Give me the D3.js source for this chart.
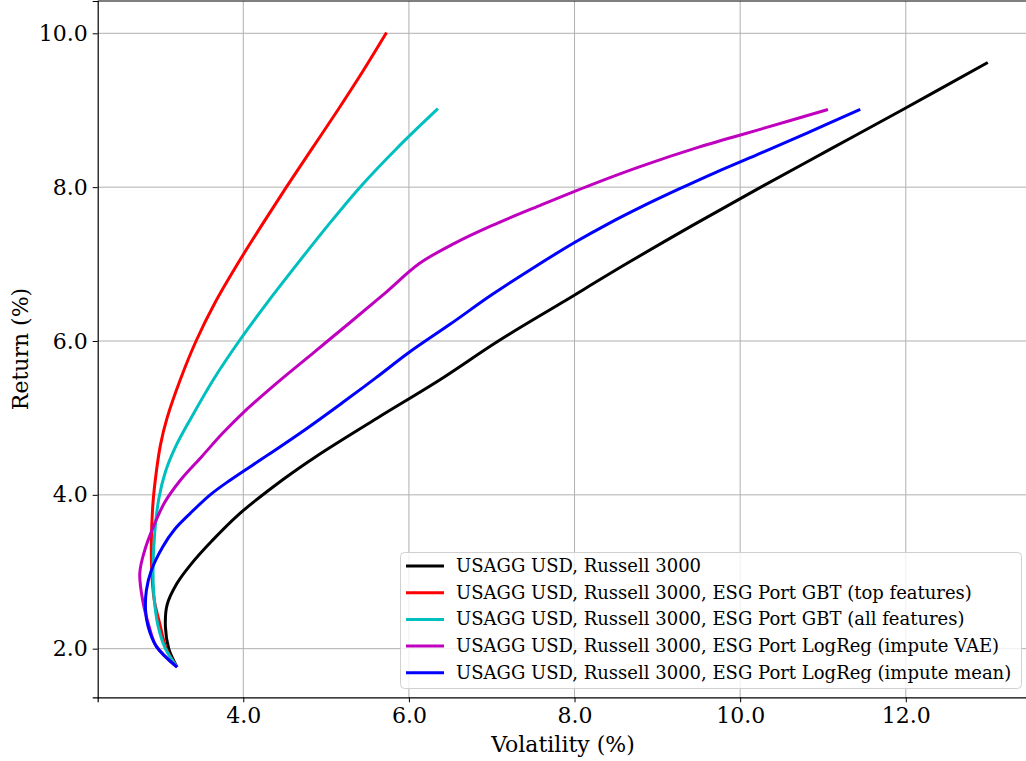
<!DOCTYPE html>
<html>
<head>
<meta charset="utf-8">
<script src="https://cdn.jsdelivr.net/npm/d3@7"></script>
<style>
  body { margin: 0; background: #fff; }
  svg { display: block; font-family: "DejaVu Serif", serif; }
</style>
</head>
<body>
<div id="display"></div>
<script>
// frontier curves: [volatility %, return %]
var black = [[3.20,1.76],[3.10,2.00],[3.06,2.28],[3.08,2.57],[3.20,2.85],[3.37,3.10],[3.62,3.40],[3.95,3.75],
  [4.48,4.20],[4.88,4.50],[5.62,5.00],[6.38,5.50],[7.08,6.00],[7.85,6.50],[8.62,7.00],[9.42,7.50],
  [10.25,8.00],[11.10,8.50],[11.95,9.00],[12.99,9.62]];
var red = [[3.20,1.76],[3.07,2.00],[2.99,2.33],[2.93,2.60],[2.90,2.90],[2.89,3.40],[2.91,3.90],[2.95,4.30],
  [3.00,4.65],[3.08,5.00],[3.24,5.50],[3.43,6.00],[3.66,6.50],[3.93,7.00],[4.22,7.50],[4.52,8.00],
  [4.83,8.50],[5.14,9.00],[5.44,9.50],[5.73,10.01]];
var cyan = [[3.20,1.76],[3.06,2.00],[2.97,2.30],[2.92,2.70],[2.91,3.00],[2.93,3.50],[2.98,3.95],[3.06,4.30],
  [3.18,4.62],[3.37,5.00],[3.64,5.50],[3.95,6.00],[4.29,6.50],[4.65,7.00],[5.02,7.50],[5.41,8.00],
  [5.85,8.50],[6.35,9.02]];
var magenta = [[3.20,1.76],[2.95,2.03],[2.86,2.30],[2.79,2.60],[2.75,2.98],[2.81,3.28],[2.92,3.60],[3.05,3.90],
  [3.24,4.19],[3.50,4.50],[3.75,4.80],[4.00,5.07],[4.40,5.45],[4.85,5.85],[5.30,6.25],[5.72,6.63],
  [6.13,7.01],[6.55,7.27],[7.00,7.50],[7.60,7.77],[8.20,8.03],[8.80,8.27],[9.50,8.52],[10.30,8.77],[11.06,9.01]];
var blue = [[3.20,1.76],[2.95,2.03],[2.85,2.29],[2.82,2.50],[2.83,2.76],[2.89,3.02],[3.03,3.33],[3.17,3.55],
  [3.36,3.76],[3.60,4.00],[3.84,4.19],[4.30,4.52],[4.75,4.85],[5.20,5.20],[5.60,5.52],[6.00,5.85],
  [6.50,6.22],[7.00,6.60],[7.50,6.95],[8.00,7.28],[8.40,7.52],[8.80,7.74],[9.25,7.97],[9.70,8.19],
  [10.20,8.42],[10.80,8.70],[11.45,9.01]];

var seriesNames = ["USAGG USD, Russell 3000",
  "USAGG USD, Russell 3000, ESG Port GBT (top features)",
  "USAGG USD, Russell 3000, ESG Port GBT (all features)",
  "USAGG USD, Russell 3000, ESG Port LogReg (impute VAE)",
  "USAGG USD, Russell 3000, ESG Port LogReg (impute mean)"];
var seriesData = [black, red, cyan, magenta, blue];
var seriesColors = ["#000000", "#ff0000", "#00bfbf", "#bf00bf", "#0000ff"];

var xTicks = [4, 6, 8, 10, 12];
var yTicks = [2, 4, 6, 8, 10];

var width = 1026, height = 761;

var svg = d3.select("#display").append("svg")
  .attr("width", width)
  .attr("height", height);

// right edge of the axes sits just past the window
var x = d3.scaleLinear().domain([2.242, 13.5]).range([97.7, 1030]);
var y = d3.scaleLinear().domain([1.368, 10.42]).range([697.3, 1]);

// grid
svg.append("g").selectAll("line").data(xTicks).enter().append("line")
  .attr("x1", function(d){ return x(d) }).attr("x2", function(d){ return x(d) })
  .attr("y1", y.range()[0]).attr("y2", y.range()[1])
  .attr("stroke", "#b0b0b0").attr("stroke-width", 1);
svg.append("g").selectAll("line").data(yTicks).enter().append("line")
  .attr("y1", function(d){ return y(d) }).attr("y2", function(d){ return y(d) })
  .attr("x1", x.range()[0]).attr("x2", x.range()[1])
  .attr("stroke", "#b0b0b0").attr("stroke-width", 1);

// curves
var line = d3.line()
  .x(function(d){ return x(d[0]) })
  .y(function(d){ return y(d[1]) })
  .curve(d3.curveCatmullRom.alpha(0.5));

svg.append("g").selectAll("path").data(seriesData).enter().append("path")
  .attr("d", line)
  .attr("fill", "none")
  .attr("stroke", function(d, i){ return seriesColors[i] })
  .attr("stroke-width", 3)
  .attr("stroke-linejoin", "round");

// axes
var xAxis = svg.append("g")
  .attr("transform", "translate(0," + y.range()[0] + ")")
  .call(d3.axisBottom(x).tickValues(xTicks).tickFormat(d3.format(".1f")).tickSizeOuter(0).tickSize(5).tickPadding(5));
var yAxis = svg.append("g")
  .attr("transform", "translate(" + x.range()[0] + ",0)")
  .call(d3.axisLeft(y).tickValues(yTicks).tickFormat(d3.format(".1f")).tickSizeOuter(0).tickSize(5).tickPadding(5));
[xAxis, yAxis].forEach(function(a){
  a.selectAll("text").attr("font-family", "DejaVu Serif").attr("font-size", 22).attr("fill", "#000");
  a.select(".domain").attr("stroke", "#000").attr("stroke-width", 1.2);
  a.selectAll(".tick line").attr("stroke", "#000").attr("stroke-width", 1);
});

// top spine
svg.append("line")
  .attr("x1", x.range()[0]).attr("x2", x.range()[1])
  .attr("y1", y.range()[1]).attr("y2", y.range()[1])
  .attr("stroke", "#000").attr("stroke-width", 1.2);

// axis labels
svg.append("text")
  .attr("x", 563).attr("y", 752)
  .attr("text-anchor", "middle")
  .attr("font-size", 22)
  .text("Volatility (%)");
svg.append("text")
  .attr("transform", "translate(28,349) rotate(-90)")
  .attr("text-anchor", "middle")
  .attr("font-size", 22)
  .text("Return (%)");

// legend
var lg = svg.append("g").attr("transform", "translate(400,552)");
lg.append("rect")
  .attr("x", 0.5).attr("y", 0.5).attr("width", 621).attr("height", 136)
  .attr("rx", 4)
  .attr("fill", "#fff").attr("fill-opacity", 0.8)
  .attr("stroke", "#d0d0d0");
var items = lg.selectAll("g.item").data(seriesNames).enter().append("g")
  .attr("transform", function(d, i){ return "translate(0," + (14 + i * 26.7) + ")" });
items.append("line")
  .attr("x1", 6).attr("x2", 44)
  .attr("stroke", function(d, i){ return seriesColors[i] })
  .attr("stroke-width", 3);
items.append("text")
  .attr("x", 56).attr("y", 6)
  .attr("font-size", 18)
  .text(function(d){ return d });
</script>
</body>
</html>
